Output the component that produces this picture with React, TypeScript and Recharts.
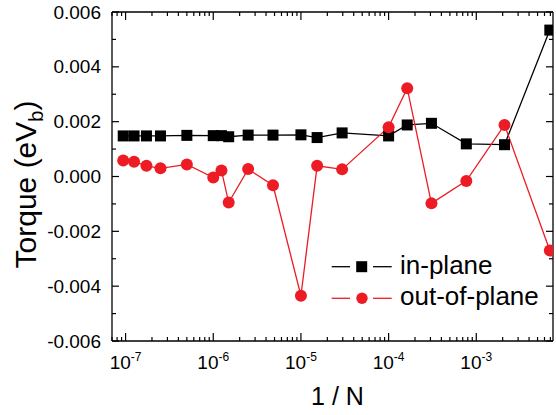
import React from 'react';
import { LineChart, Line, XAxis, YAxis, Legend } from 'recharts';

// 1/N sample positions (log axis)
const inverseN = [
  9.4e-8, 1.25e-7, 1.73e-7, 2.5e-7, 5.0e-7, 1.0e-6, 1.24e-6, 1.5e-6, 2.5e-6, 4.8e-6,
  1.0e-5, 1.53e-5, 2.95e-5, 1.0e-4, 1.63e-4, 3.08e-4, 7.7e-4, 2.1e-3, 6.9e-3,
];

// Torque values in units of eV_b
const inPlane = [
  0.00148, 0.00148, 0.00148, 0.00148, 0.0015, 0.00149, 0.00149, 0.00145, 0.00151, 0.00151,
  0.00152, 0.00142, 0.00159, 0.00148, 0.00188, 0.00194, 0.00119, 0.00116, 0.00534,
];
const outOfPlane = [
  0.00058, 0.00054, 0.00039, 0.0003, 0.00044, -0.00004, 0.00022, -0.00095, 0.00027, -0.00032,
  -0.00435, 0.00039, 0.00026, 0.0018, 0.00322, -0.00098, -0.00016, 0.00188, -0.0027,
];

const xDomain: [number, number] = [7e-8, 7.5e-3];
const xDecadeExponents = [-8, -7, -6, -5, -4, -3];
const xMinorSteps = [1, 2, 3, 4, 5, 6, 7, 8, 9];

const yTickValues = [-0.006, -0.005, -0.004, -0.003, -0.002, -0.001, 0, 0.001, 0.002, 0.003, 0.004, 0.005, 0.006];
const yTickLabels = ['-0.006', '', '-0.004', '', '-0.002', '', '0.000', '', '0.002', '', '0.004', '', '0.006'];

const seriesNames = ['in-plane', 'out-of-plane'];
const RED = '#ED1C24';
const FONT = '"Liberation Sans", Arial, Helvetica, sans-serif';

const data = inverseN.map((x, i) => ({ x, inPlane: inPlane[i], outOfPlane: outOfPlane[i] }));

const xTicks: number[] = [];
xDecadeExponents.forEach((e) => {
  xMinorSteps.forEach((m) => {
    const v = m * Math.pow(10, e);
    if (v >= xDomain[0] && v <= xDomain[1]) xTicks.push(v);
  });
});

const isDecade = (v: number) => {
  const lg = Math.log10(v);
  return Math.abs(lg - Math.round(lg)) < 1e-6;
};

const yLabelFor = (v: number) => {
  const idx = yTickValues.findIndex((t) => Math.abs(t - v) < 1e-9);
  return idx >= 0 ? yTickLabels[idx] : '';
};

const BottomTick = (props: any) => {
  const { x, y, payload } = props;
  const major = isDecade(payload.value);
  const exp = Math.round(Math.log10(payload.value));
  return (
    <g>
      <line x1={x} x2={x} y1={y} y2={y - (major ? 8 : 4)} stroke="#000" strokeWidth={1.2} />
      {major && (
        <text x={x} y={y + 28} textAnchor="middle" fontSize={19} fontFamily={FONT} fill="#000">
          <tspan>10</tspan>
          <tspan dy={-8} fontSize={12}>{exp}</tspan>
        </text>
      )}
    </g>
  );
};

const TopTick = (props: any) => {
  const { x, y, payload } = props;
  const major = isDecade(payload.value);
  return <line x1={x} x2={x} y1={y} y2={y + (major ? 8 : 4)} stroke="#000" strokeWidth={1.2} />;
};

const LeftTick = (props: any) => {
  const { x, y, payload } = props;
  const label = yLabelFor(payload.value);
  const major = label !== '';
  return (
    <g>
      <line x1={x} x2={x + (major ? 7 : 4)} y1={y} y2={y} stroke="#000" strokeWidth={1.2} />
      {major && (
        <text x={x - 11} y={y} dy="0.35em" textAnchor="end" fontSize={19} fontFamily={FONT} fill="#000">
          {label}
        </text>
      )}
    </g>
  );
};

const RightTick = (props: any) => {
  const { x, y, payload } = props;
  const major = yLabelFor(payload.value) !== '';
  return <line x1={x} x2={x - (major ? 7 : 4)} y1={y} y2={y} stroke="#000" strokeWidth={1.2} />;
};

const SquareDot = (p: any) => (
  <rect key={`sq-${p.index}`} x={p.cx - 5.5} y={p.cy - 5.5} width={11} height={11} fill="#000" />
);
const CircleDot = (p: any) => <circle key={`ci-${p.index}`} cx={p.cx} cy={p.cy} r={6} fill={RED} />;

const XTitle = (p: any) => {
  const vb = p.viewBox;
  return (
    <text x={vb.x + vb.width / 2 + 5} y={vb.y + 64} textAnchor="middle" fontSize={25} fontFamily={FONT} fill="#000">
      1 / N
    </text>
  );
};

const YTitle = (p: any) => {
  const vb = p.viewBox;
  const cx = 36;
  const cy = vb.y + vb.height / 2 + 8;
  return (
    <text
      x={cx}
      y={cy}
      transform={`rotate(-90, ${cx}, ${cy})`}
      textAnchor="middle"
      fontSize={30}
      fontFamily={FONT}
      fill="#000"
    >
      <tspan>Torque (eV</tspan>
      <tspan dy={7} fontSize={20}>b</tspan>
      <tspan dy={-7}>)</tspan>
    </text>
  );
};

const LegendBox = () => (
  <svg width={231} height={75} style={{ display: 'block' }}>
    <g>
      <line x1={6.7} x2={25} y1={21.7} y2={21.7} stroke="#000" strokeWidth={1.3} />
      <rect x={31.2} y={16.2} width={11} height={11} fill="#000" />
      <line x1={48} x2={66.7} y1={21.7} y2={21.7} stroke="#000" strokeWidth={1.3} />
      <text x={75} y={28.5} fontSize={26} fontFamily={FONT} fill="#000">{seriesNames[0]}</text>
    </g>
    <g>
      <line x1={6.7} x2={25} y1={53.3} y2={53.3} stroke={RED} strokeWidth={1.3} />
      <circle cx={37} cy={53.3} r={5.7} fill={RED} />
      <line x1={48} x2={66.7} y1={53.3} y2={53.3} stroke={RED} strokeWidth={1.3} />
      <text x={75} y={60} fontSize={26} fontFamily={FONT} fill="#000">{seriesNames[1]}</text>
    </g>
  </svg>
);

export default function App() {
  return (
    <div style={{ position: 'absolute', left: 0, top: 0, width: 556, height: 415, background: '#fff' }}>
      <LineChart width={556} height={415} data={data} margin={{ top: 11, right: 2, bottom: 73, left: 111 }}>
        <XAxis
          dataKey="x"
          type="number"
          scale="log"
          domain={xDomain}
          allowDataOverflow
          ticks={xTicks}
          interval={0}
          height={1}
          tickSize={0}
          tickMargin={0}
          tickLine={false}
          tick={BottomTick}
          axisLine={{ stroke: '#000', strokeWidth: 1.3 }}
          label={{ content: XTitle }}
        />
        <XAxis
          xAxisId="top"
          orientation="top"
          dataKey="x"
          type="number"
          scale="log"
          domain={xDomain}
          allowDataOverflow
          ticks={xTicks}
          interval={0}
          height={1}
          tickSize={0}
          tickMargin={0}
          tickLine={false}
          tick={TopTick}
          axisLine={{ stroke: '#000', strokeWidth: 1.3 }}
        />
        <YAxis
          type="number"
          domain={[-0.006, 0.006]}
          allowDataOverflow
          ticks={yTickValues}
          interval={0}
          width={1}
          tickSize={0}
          tickMargin={0}
          tickLine={false}
          tick={LeftTick}
          axisLine={{ stroke: '#000', strokeWidth: 1.3 }}
          label={{ content: YTitle }}
        />
        <YAxis
          yAxisId="right"
          orientation="right"
          type="number"
          domain={[-0.006, 0.006]}
          allowDataOverflow
          ticks={yTickValues}
          interval={0}
          width={1}
          tickSize={0}
          tickMargin={0}
          tickLine={false}
          tick={RightTick}
          axisLine={{ stroke: '#000', strokeWidth: 1.3 }}
        />
        <Line
          dataKey="inPlane"
          name={seriesNames[0]}
          stroke="#000"
          strokeWidth={1.3}
          dot={SquareDot}
          activeDot={false}
          isAnimationActive={false}
        />
        <Line
          dataKey="outOfPlane"
          name={seriesNames[1]}
          stroke={RED}
          strokeWidth={1.3}
          dot={CircleDot}
          activeDot={false}
          isAnimationActive={false}
        />
        <Legend
          layout="vertical"
          align="center"
          verticalAlign="middle"
          content={LegendBox}
          wrapperStyle={{ position: 'absolute', left: 325, top: 245, width: 231, height: 75 }}
        />
      </LineChart>
    </div>
  );
}
